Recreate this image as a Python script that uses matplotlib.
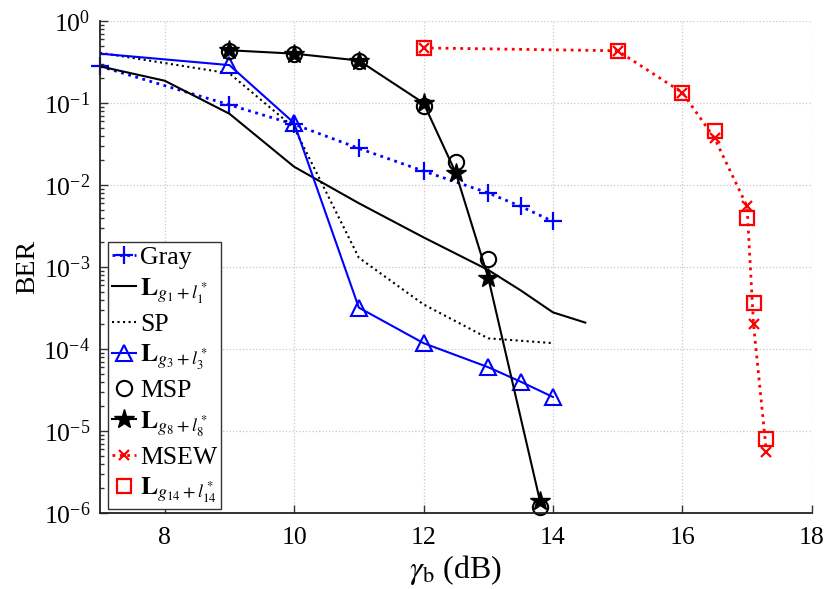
import matplotlib
matplotlib.use("Agg")
import matplotlib.pyplot as plt
from matplotlib.ticker import LogLocator, NullFormatter, FixedLocator

plt.rcParams['font.family'] = ['Liberation Serif', 'DejaVu Serif']
plt.rcParams['mathtext.fontset'] = 'stix'

# ---- data ----
snr_gray = [7, 9, 10, 11, 12, 13, 13.5, 14]
ber_gray = [0.28, 0.095, 0.055, 0.028, 0.0148, 0.008, 0.0055, 0.0036]

snr_g1 = [7, 8, 9, 10, 11, 12, 13, 13.5, 14, 14.5]
ber_g1 = [0.28, 0.187, 0.074, 0.0167, 0.006, 0.0023, 0.00092, 0.00052, 0.00028, 0.00021]

snr_sp = [7, 9, 10, 11, 12, 13, 14]
ber_sp = [0.41, 0.23, 0.05, 0.0013, 0.00035, 0.000135, 0.000118]

snr_g3 = [7, 9, 10, 11, 12, 13, 13.5, 14]
ber_g3 = [0.40, 0.29, 0.057, 0.00032, 0.000118, 0.00006, 0.00004, 0.000026]

snr_msp = [9, 10, 11, 12, 12.5, 13, 13.8]
ber_msp = [0.434, 0.395, 0.33, 0.093, 0.019, 0.00126, 1.2e-6]

snr_g8 = [9, 10, 11, 12, 12.5, 13, 13.8]
ber_g8 = [0.44, 0.40, 0.33, 0.10, 0.014, 0.00074, 1.4e-6]

snr_msew = [12, 15, 16, 16.5, 17, 17.1, 17.3]
ber_msew = [0.47, 0.434, 0.134, 0.037, 0.0055, 0.0002, 5.5e-6]

snr_g14 = [12, 15, 16, 16.5, 17, 17.1, 17.3]
ber_g14 = [0.47, 0.434, 0.134, 0.0456, 0.0040, 0.00036, 8.1e-6]

x_ticks = [8, 10, 12, 14, 16, 18]

fig = plt.figure(figsize=(8.3, 5.89), dpi=100)
ax = fig.add_axes([0.1205, 0.129, 0.8575, 0.8353])

lw = 1.5
ax.plot(snr_gray, ber_gray, color='blue', ls=':', lw=2, marker='+', ms=13, mew=1.6,
        label='Gray', clip_on=False)
ax.plot(snr_g1, ber_g1, color='black', ls='-', lw=lw, label=r'$\mathbf{L}_{g_1+l_1^*}$')
ax.plot(snr_sp, ber_sp, color='black', ls=':', lw=lw, label='SP')
ax.plot(snr_g3, ber_g3, color='blue', ls='-', lw=lw, marker='^', ms=12, mew=1.5,
        mfc='none', markevery=list(range(1, len(snr_g3))), label=r'$\mathbf{L}_{g_3+l_3^*}$')
ax.plot(snr_msp, ber_msp, color='black', ls='none', marker='o', ms=11, mew=1.5,
        mfc='none', label='MSP', clip_on=False)
ax.plot(snr_g8, ber_g8, color='black', ls='-', lw=lw, marker='*', ms=15, mew=1.0,
        mfc='black', label=r'$\mathbf{L}_{g_8+l_8^*}$', clip_on=False)
ax.plot(snr_msew, ber_msew, color='red', ls=':', lw=2, marker='x', ms=7, mew=1.6,
        label='MSEW')
ax.plot(snr_g14, ber_g14, color='red', ls='none', marker='s', ms=9.5, mew=1.6,
        mfc='none', label=r'$\mathbf{L}_{g_{14}+l_{14}^*}$')

ax.set_yscale('log')
ax.set_xlim(7, 18)
ax.set_ylim(1e-6, 1)
ax.xaxis.set_major_locator(FixedLocator(x_ticks))
ax.yaxis.set_major_locator(LogLocator(base=10, numticks=10))
ax.yaxis.set_minor_locator(LogLocator(base=10, subs=range(2, 10), numticks=20))
ax.yaxis.set_minor_formatter(NullFormatter())
ax.xaxis.offsetText.set_visible(False)
ax.yaxis.offsetText.set_visible(False)

ax.grid(True, which='major', ls=':', color='#c8c8c8', lw=0.9)
ax.tick_params(which='both', direction='in', labelsize=18.5, width=1.0, color='#333333')
ax.tick_params(which='major', length=6)
ax.tick_params(which='minor', length=3)
ax.tick_params(axis='x', pad=10)
ax.tick_params(axis='y', pad=7)
for s in ['top', 'right']:
    ax.spines[s].set_visible(False)
for s in ['left', 'bottom']:
    ax.spines[s].set_linewidth(1.3)
    ax.spines[s].set_color('#222222')

ax.set_xlabel(r'$\gamma_{\rm b}$ (dB)', fontsize=23, labelpad=3)
ax.set_ylabel('BER', fontsize=20, labelpad=2)

leg = ax.legend(loc='lower left', bbox_to_anchor=(0.011, 0.008), fontsize=18.5,
                handlelength=0.95, handletextpad=0.15, labelspacing=0.27,
                borderpad=0.15, borderaxespad=0.0, fancybox=False, framealpha=1)
leg.get_frame().set_edgecolor('#333333')
leg.get_frame().set_linewidth(1.0)

fig.savefig('out.png', dpi=100)
